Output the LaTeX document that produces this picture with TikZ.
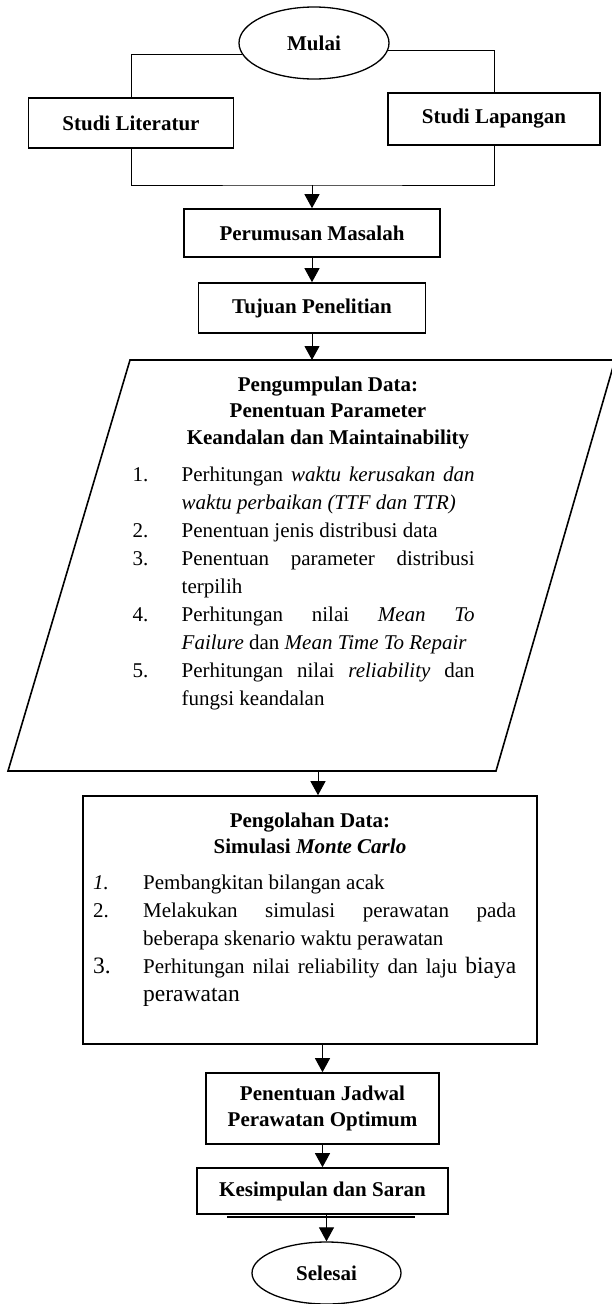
\documentclass[tikz,border=0pt]{standalone}
\usepackage{fontspec}
\setmainfont{Liberation Serif}
\usepackage{tikz}
\usetikzlibrary{arrows.meta, shapes.geometric}

\newcommand{\numitem}[3][49pt]{\par\noindent\hangindent=#1\hangafter=1\hbox to #1{\strut#2\hfil}#3\par}

\begin{document}
\begin{tikzpicture}[x=1pt, y=-1pt, font=\fontsize{21}{28}\selectfont,
  frame/.style={draw, line width=1.6pt},
  box/.style={frame, rectangle, inner sep=0pt, align=center, font=\bfseries\fontsize{21}{26}\selectfont},
  terminal/.style={draw, ellipse, line width=1.3pt, inner sep=0pt, font=\bfseries\fontsize{21}{26}\selectfont},
  link/.style={line width=1pt},
  flow/.style={line width=1pt, -{Triangle[length=14pt, width=15pt]}}]

  % Page
  \fill[white] (0,0) rectangle (611,1304);
  \useasboundingbox (0,0) rectangle (611,1304);

  % Start and the two studies
  \node[terminal, minimum width=150pt, minimum height=72pt] (start) at (314,43) {Mulai};
  \node[box, minimum width=205pt, minimum height=50pt] (literature) at (131,123) {Studi Literatur};
  \node[box, minimum width=212pt, minimum height=52pt] (field) at (494,119) {Studi Lapangan};

  \draw[link] (start.189) -| (literature.north);
  \draw[link] (start.354) -| (field.north);
  \coordinate (merge) at (312,185);
  \draw[link] (literature.south) |- (merge) -| (field.south);

  % Problem and objective
  \node[box, minimum width=256pt, minimum height=48pt] (problem) at (312,233) {Perumusan Masalah};
  \node[box, minimum width=227pt, minimum height=50pt] (objective) at (312,308) {Tujuan Penelitian};
  \draw[flow] (merge) -- (problem.north);
  \draw[flow] (problem.south) -- (objective.north);

  % Data collection (parallelogram)
  \coordinate (collecttop) at (312,360);
  \coordinate (collectbot) at (318,771);
  \draw[frame] (130,360) -- (615,360) -- (496,771) -- (8,771) -- cycle;
  \draw[flow] (objective.south) -- (collecttop);

  \node[anchor=north, align=center, inner sep=0pt, font=\bfseries\fontsize{21}{26.5}\selectfont] (collecthead) at (328,372.5)
    {\strut Pengumpulan Data:\\Penentuan Parameter\\Keandalan dan Maintainability};
  \node[anchor=north west, inner sep=0pt, text width=342pt, align=justify] (collectlist) at (132.5,453.4)
    {\tolerance=10000
     \numitem{1.}{Perhitungan \textit{waktu kerusakan dan}\linebreak \textit{waktu perbaikan (TTF dan TTR)}}
     \numitem{2.}{Penentuan jenis distribusi data}
     \numitem{3.}{Penentuan parameter distribusi\linebreak terpilih}
     \numitem{4.}{Perhitungan nilai \textit{Mean To}\linebreak \textit{Failure} dan \textit{Mean Time To Repair}}
     \numitem{5.}{Perhitungan nilai \textit{reliability} dan\linebreak fungsi keandalan}};

  % Data processing
  \node[frame, rectangle, minimum width=454pt, minimum height=248pt] (process) at (310,920) {};
  \draw[flow] (collectbot) -- (collectbot |- process.north);

  \node[anchor=north, align=center, inner sep=0pt, font=\bfseries\fontsize{21}{25.5}\selectfont] (processhead) at (310,809.9)
    {\strut Pengolahan Data:\\Simulasi \textit{Monte Carlo}};
  \node[anchor=north west, inner sep=0pt, text width=423pt, align=justify] (processlist) at (93,861.1)
    {\tolerance=10000
     \numitem[50pt]{\textit{1.}}{Pembangkitan bilangan acak}
     \numitem[50pt]{2.}{Melakukan simulasi perawatan pada\linebreak beberapa skenario waktu perawatan}
     \numitem[50pt]{\fontsize{23.5}{28}\selectfont 3.}{Perhitungan nilai reliability dan laju {\fontsize{23.5}{28}\selectfont biaya}\linebreak {\fontsize{23.5}{28}\selectfont perawatan}}};

  % Schedule, conclusion, finish
  \node[box, minimum width=233pt, minimum height=71pt] (schedule) at (322.5,1108.5) {Penentuan Jadwal\\Perawatan Optimum};
  \node[box, minimum width=251pt, minimum height=46pt] (conclusion) at (322.5,1191) {Kesimpulan dan Saran};
  \draw[line width=1.2pt] (227,1217) -- (415,1217);
  \node[terminal, minimum width=149pt, minimum height=62pt] (finish) at (326.5,1273) {Selesai};

  \draw[flow] (process.south -| schedule.north) -- (schedule.north);
  \draw[flow] (schedule.south) -- (conclusion.north);
  \draw[flow] (conclusion.south -| finish.north) -- (finish.north);

\end{tikzpicture}
\end{document}
